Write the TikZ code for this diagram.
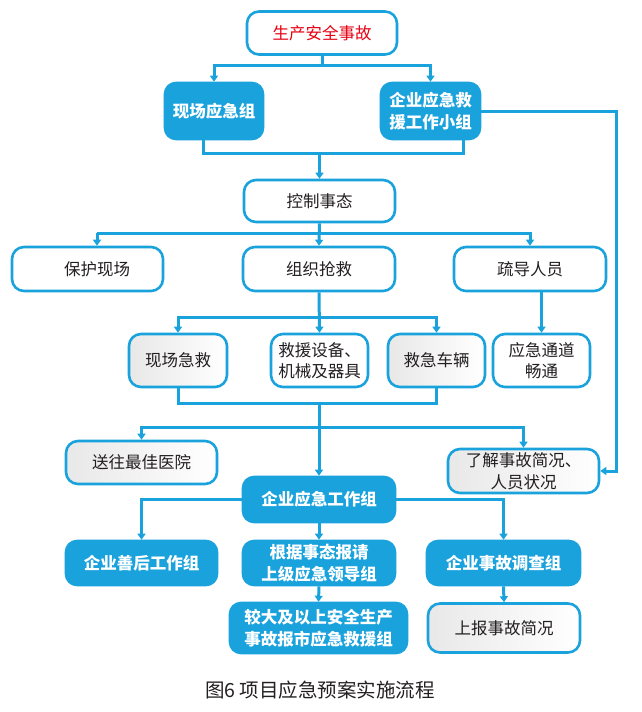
\documentclass[tikz,border=0pt]{standalone}
\usepackage{fontspec}
\setmainfont{Noto Sans CJK SC}
\usetikzlibrary{arrows.meta}
\definecolor{lblue}{HTML}{1AA2DC}
\definecolor{txtred}{HTML}{E60012}
\definecolor{txt}{HTML}{231F20}
\tikzset{
  box/.style={draw=lblue, line width=2.6pt, rounded corners=12pt, align=center,
    inner sep=0pt, font=\fontsize{16.5}{21.5}\selectfont, text=txt, fill=white},
  wbox/.style={box},
  gbox/.style={box, left color=black!9, right color=white},
  bbox/.style={box, fill=lblue, text=white, rounded corners=11pt,
    font=\fontsize{16.5}{21.5}\selectfont\bfseries},
  conn/.style={draw=lblue, line width=3pt},
  arr/.style={conn, -{Triangle[width=8pt,length=6pt]}},
}
\begin{document}
\begin{tikzpicture}[x=1pt,y=-1pt]
\useasboundingbox (0,0) rectangle (641,712);
% row 1
\node[wbox, minimum width=150pt, minimum height=43pt, text=txtred] (top) at (322,33) {生产安全事故};
% row 2
\node[bbox, minimum width=98pt, minimum height=56pt] (g1) at (214,111) {现场应急组};
\node[bbox, minimum width=99pt, minimum height=56pt] (g2) at (430.5,111) {企业应急救\\援工作小组};
% row 3
\node[wbox, minimum width=151pt, minimum height=42pt] (ctrl) at (319.5,201) {控制事态};
% row 4
\node[wbox, minimum width=151pt, minimum height=44pt] (a1) at (87.5,269) {\hspace*{19pt}保护现场};
\node[wbox, minimum width=152pt, minimum height=44pt] (a2) at (319,269) {组织抢救};
\node[wbox, minimum width=152pt, minimum height=44pt] (a3) at (530,269) {疏导人员};
% row 5
\node[gbox, minimum width=98pt, minimum height=53pt] (b1) at (178,360.5) {现场急救};
\node[wbox, minimum width=97pt, minimum height=53pt] (b2) at (319.5,360.5) {救援设备、\\机械及器具};
\node[gbox, minimum width=97pt, minimum height=53pt] (b3) at (436.5,360.5) {救急车辆};
\node[wbox, minimum width=97pt, minimum height=53pt] (b4) at (541.5,360.5) {应急通道\\畅通};
% row 6
\node[gbox, minimum width=151pt, minimum height=43pt] (c1) at (141.5,462.5) {送往最佳医院};
\node[gbox, minimum width=151pt, minimum height=44pt] (c2) at (523.5,471) {了解事故简况、\\人员状况};
% row 7
\node[bbox, minimum width=152pt, minimum height=45pt] (wg) at (319,499.5) {企业应急工作组};
% row 8
\node[bbox, minimum width=151pt, minimum height=44pt] (d1) at (141.5,563) {企业善后工作组};
\node[bbox, minimum width=152pt, minimum height=44pt] (d2) at (319,563) {根据事态报请\\上级应急领导组};
\node[bbox, minimum width=153pt, minimum height=44pt] (d3) at (503.5,563) {企业事故调查组};
% row 9
\node[bbox, minimum width=177pt, minimum height=50pt] (e1) at (318.5,628) {较大及以上安全生产\\事故报市应急救援组};
\node[gbox, minimum width=152pt, minimum height=49pt] (e2) at (504,628) {上报事故简况};
% caption
\node[font=\fontsize{19.5}{22}\selectfont, text=txt] (cap) at (320,690) {图6 项目应急预案实施流程};

% connectors
\coordinate (j1) at (322,65);
\draw[conn] (top.south) -- (j1);
\draw[arr] (j1) -| (g1.north);
\draw[arr] (j1) -| (g2.north);

\coordinate (k1) at (203,153);
\coordinate (k2) at (463,153);
\draw[conn] (g1.south -| k1) -- (k1) -- (k2) -- (g2.south -| k2);
\draw[arr] (ctrl.north |- k1) -- (ctrl.north);

\coordinate (r1) at (616,111);
\draw[arr] (g2.east) -- (r1) |- (c2.east);

\coordinate (j2) at (319.5,233);
\coordinate (a1t) at (97,233);
\draw[arr] (ctrl.south) -- (a2.north);
\draw[conn] (j2) -- (a1t);
\draw[arr] (a1t) -- (a1t |- a1.north);
\draw[arr] (j2) -| (a3.north);

\coordinate (j3) at (319,317);
\draw[arr] (a2.south) -- (b2.north);
\draw[arr] (j3) -| (b1.north);
\draw[arr] (j3) -| (b3.north);
\draw[arr] (b4.north |- a3.south) -- (b4.north);

\coordinate (j4) at (319,403);
\coordinate (j5) at (319,427);
\draw[conn] (b1.south) |- (j4) -| (b3.south);
\draw[arr] (j4) -- (wg.north);
\draw[arr] (j5) -| (c1.north);
\draw[arr] (j5) -| (c2.north);

\draw[arr] (wg.west) -| (d1.north);
\draw[arr] (wg.south) -- (d2.north);
\draw[arr] (wg.east) -| (d3.north);

\draw[arr] (d2.south) -- (e1.north);
\draw[arr] (d3.south) -- (e2.north);
\end{tikzpicture}
\end{document}
